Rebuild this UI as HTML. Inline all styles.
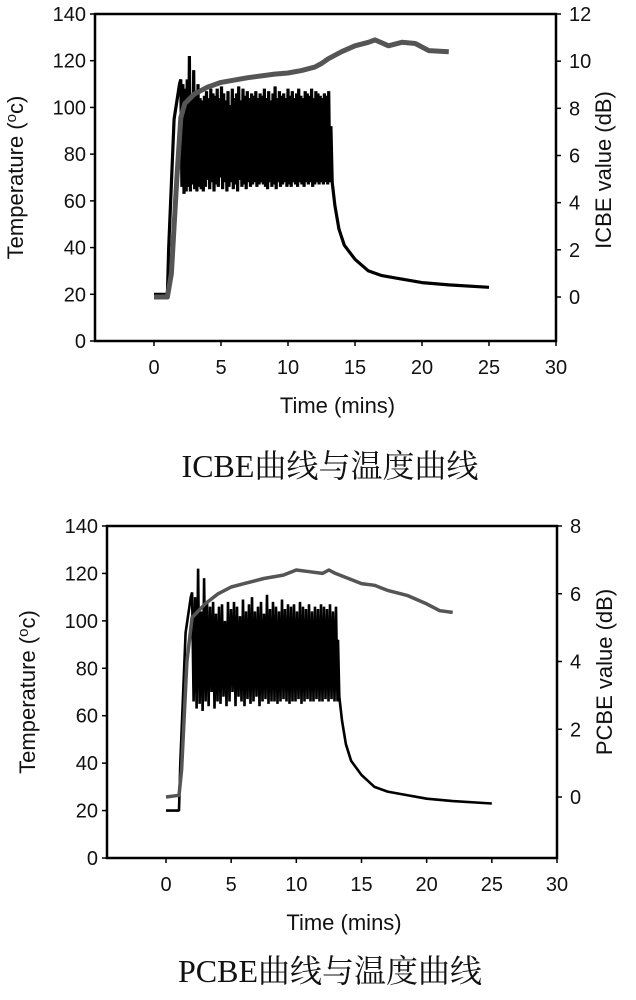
<!DOCTYPE html>
<html><head><meta charset="utf-8">
<style>
body{margin:0;background:#fff;width:636px;height:1000px;overflow:hidden}
svg{display:block}
text{font-family:"Liberation Sans",Arial,sans-serif;fill:#111}
.cap{font-family:"Liberation Serif","Noto Serif CJK SC",serif;font-size:32px}
</style></head>
<body>
<svg id="fig" width="636" height="1000"></svg>
<script>
const xTicks=[0,5,10,15,20,25,30];
const leftTicks=[0,20,40,60,80,100,120,140];
const tempPreT=[0,1.0,1.1,1.5,1.9];
const tempPreV=[20,20,40,95,110];
const oscStartTop=2.0, oscStepTop=0.08;
const oscTop=[112,66,110,63,108,64,112,66,122,64,104,67,116,65,106,64,110,66,104,65,103,64,105,66,107,69,104,65,108,68,106,64,105,67,108,66,104,70,109,65,106,68,103,64,107,66,101,68,108,65,104,67,106,64,109,69,103,66,108,67,105,65,107,68,104,66,106,67,105,68,107,66,104,67,106,68,105,67,108,66,104,65,107,68,103,66,106,67,109,65,104,68,107,66,105,67,106,68,104,66,108,67,105,66,107,68,104,67,106,66,108,68,105,67,104,66,107,68,106,67,105,68,108,66,104,67,107,68,106,67,105,68,104,67,106,68,105,67,107,68];
const oscStartBot=2.0, oscStepBot=0.115;
const oscBot=[112,66,110,63,122,65,104,62,118,66,108,64,106,70,108,63,103,66,106,65,107,68,100,64,108,66,105,70,108,64,106,68,102,66,109,64,104,67,107,65,110,66,104,68,106,64,108,66,103,67,111,65,105,66,108,66,106,65,104,66,109,67,105,66,107,65,106,66,107,66,104,67,108,65,106,66,105,67,107,66,104,66,106,67,105,66,107,66,106,67,105,66,107,67,104,66,106,66];
const tailT=[13.2,13.3,13.5,13.8,14.2,15,16,17,18,20,22,25];
const tailV=[92,68,58,48,41,35,30,28,27,25,24,23];
const icbeT=[0,1.0,1.3,1.7,2.0,2.3,3,4,5,7,9,10,11,12,12.5,13,14,15,16,16.5,17.5,18.5,19.5,20.5,22];
const icbeV=[0,0,1,5,7.6,8.2,8.6,8.9,9.1,9.3,9.45,9.5,9.6,9.75,9.9,10.1,10.4,10.65,10.8,10.9,10.65,10.8,10.75,10.45,10.4];
const pcbeT=[0,1.0,1.2,1.6,2.0,2.5,3,4,5,6,7.5,9,10,11,12,12.5,13,14,15,16,17,17.5,18.5,20,21,22];
const pcbeV=[0,0.05,0.8,4,5.3,5.5,5.7,6.0,6.2,6.3,6.45,6.55,6.7,6.65,6.6,6.7,6.6,6.45,6.3,6.25,6.1,6.05,5.95,5.7,5.5,5.45];

const NS="http://www.w3.org/2000/svg";
const svg=document.getElementById('fig');
function mk(tag,attrs,parent){const e=document.createElementNS(NS,tag);for(const k in attrs)e.setAttribute(k,attrs[k]);(parent||svg).appendChild(e);return e;}

function chart(cfg){
  const g=mk('g',{});
  
  
  const X=t=>cfg.x0+(t/30)*(cfg.x30-cfg.x0);
  const YL=v=>cfg.bottom-(v/140)*(cfg.bottom-cfg.top);
  const YR=v=>cfg.r0-(v/cfg.rMax)*(cfg.r0-cfg.top);
  const fr=mk('rect',{x:cfg.left,y:cfg.top,width:cfg.right-cfg.left,height:cfg.bottom-cfg.top,fill:'none',stroke:'#000','stroke-width':2.5},g);
  
  
  leftTicks.forEach(v=>{
    mk('line',{x1:cfg.left-5,x2:cfg.left,y1:YL(v),y2:YL(v),stroke:'#000','stroke-width':1.5},g);
    const t=mk('text',{x:cfg.left-9,y:YL(v)+7,'text-anchor':'end','font-size':20},g);t.textContent=v;
    
    
  });
  cfg.rTicks.forEach(v=>{
    mk('line',{x1:cfg.right,x2:cfg.right+5,y1:YR(v),y2:YR(v),stroke:'#000','stroke-width':1.5},g);
    const t=mk('text',{x:cfg.right+13,y:YR(v)+7,'text-anchor':'start','font-size':20},g);t.textContent=v;
    
    
  });
  xTicks.forEach(v=>{
    mk('line',{x1:X(v),x2:X(v),y1:cfg.bottom,y2:cfg.bottom+5,stroke:'#000','stroke-width':1.5},g);
    const t=mk('text',{x:X(v),y:cfg.bottom+33,'text-anchor':'middle','font-size':20},g);t.textContent=v;
    
    
  });
  const xt=mk('text',{x:(cfg.left+cfg.right)/2+12,y:cfg.bottom+72,'text-anchor':'middle','font-size':22},g);xt.textContent='Time (mins)';
  
  
  const cy=(cfg.top+cfg.bottom)/2;
  const yt=mk('text',{transform:`translate(${cfg.left-72},${cy}) rotate(-90)`,'text-anchor':'middle','font-size':22},g);
  yt.innerHTML='Temperature (<tspan dy="-7" font-size="15">o</tspan><tspan dy="7">c)</tspan>';
  
  
  const rt=mk('text',{transform:`translate(${cfg.right+55},${cfg.rTitleY}) rotate(-90)`,'text-anchor':'middle','font-size':22},g);
  rt.textContent=cfg.rTitle;
  
  
  let pts=[];
  tempPreT.forEach((t,i)=>pts.push([X(t),YL(tempPreV[i])]));
  cfg.osc.forEach((v,i)=>pts.push([X(cfg.oscStart+i*cfg.oscStep),YL(v)]));
  tailT.forEach((t,i)=>pts.push([X(t),YL(tailV[i])]));
  const tp=mk('path',{d:'M'+pts.map(p=>p[0].toFixed(1)+','+p[1].toFixed(1)).join('L'),fill:'none',stroke:'#000','stroke-width':cfg.tw,'stroke-linejoin':'bevel'},g);
  
  
  const rp=cfg.rT.map((t,i)=>X(t).toFixed(1)+','+YR(cfg.rV[i]).toFixed(1));
  const rl=mk('path',{d:'M'+rp.join('L'),fill:'none',stroke:'#555','stroke-width':cfg.gw,'stroke-linejoin':'round'},g);
  
  
  const cap=mk('text',{x:330,y:cfg.capY,'text-anchor':'middle','class':'cap'},g);
  cap.textContent=cfg.caption;
  
  
}
chart({name:'icbe-chart',left:95,right:556,top:14,bottom:341,x0:154,x30:556,rMax:12,r0:297,rTicks:[0,2,4,6,8,10,12],
  rTitle:'ICBE value (dB)',rTitleY:170,osc:oscTop,oscStart:oscStartTop,oscStep:oscStepTop,tw:3.2,rT:icbeT,rV:icbeV,rName:'icbe-line',gw:5,caption:'ICBE曲线与温度曲线',capY:477});
chart({name:'pcbe-chart',left:107,right:557,top:526,bottom:858,x0:166,x30:557,rMax:8,r0:797,rTicks:[0,2,4,6,8],
  rTitle:'PCBE value (dB)',rTitleY:672,osc:oscBot,oscStart:oscStartBot,oscStep:oscStepBot,tw:2.6,rT:pcbeT,rV:pcbeV,rName:'pcbe-line',gw:3.5,caption:'PCBE曲线与温度曲线',capY:982});
</script>
</body></html>
